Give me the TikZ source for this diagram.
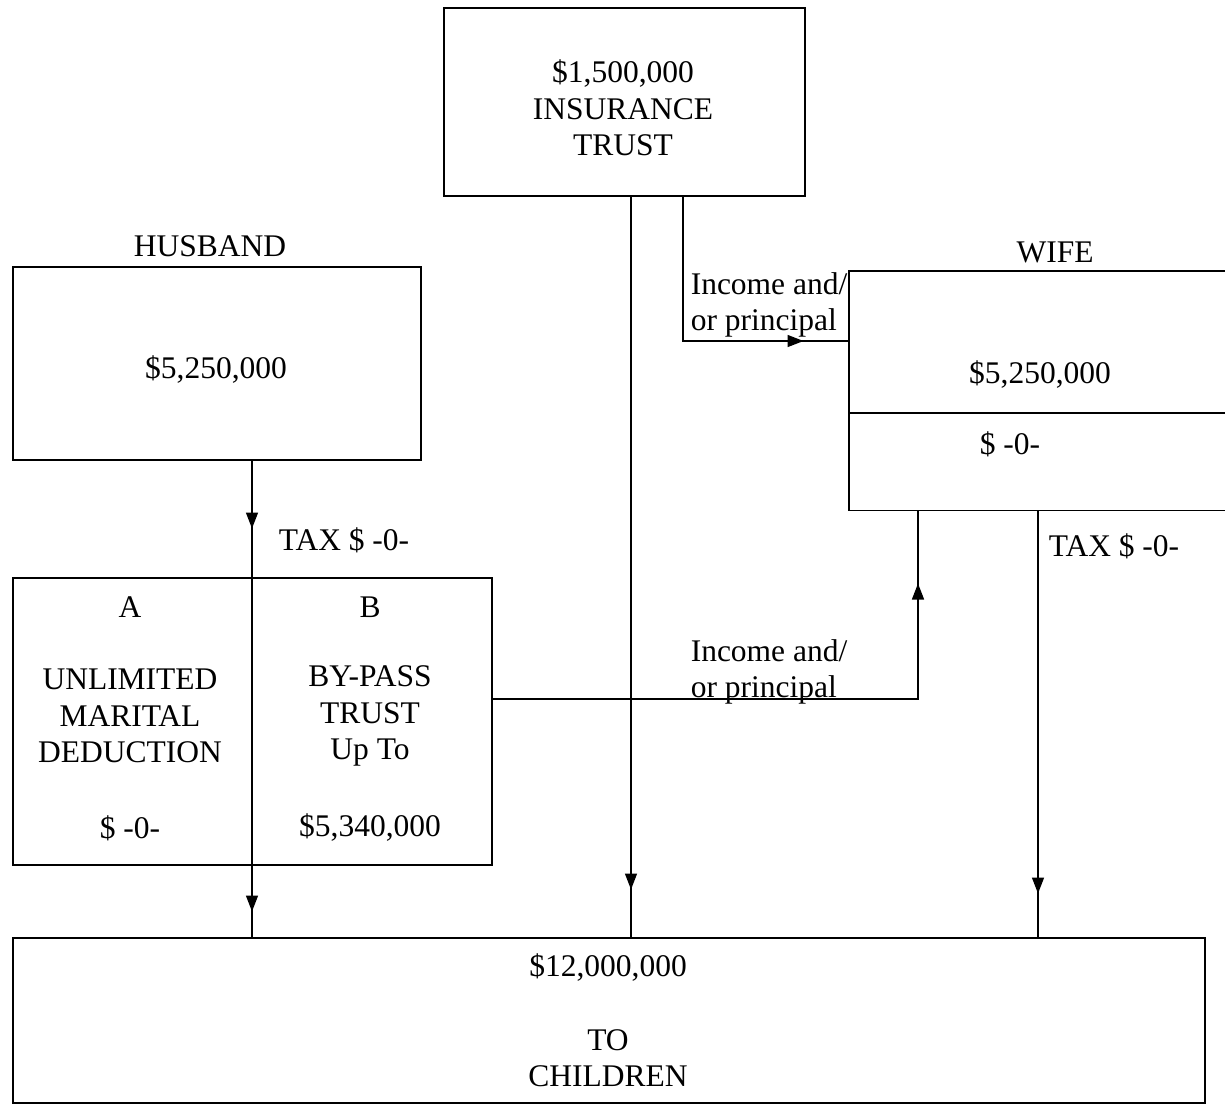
\documentclass[tikz,border=0pt]{standalone}
\usepackage{fontspec}
\setmainfont{Liberation Serif}
\usetikzlibrary{arrows.meta,decorations.markings,calc}
\begin{document}
\begin{tikzpicture}[x=1pt,y=-1pt,line width=1.5pt,
  txt/.style={font=\fontsize{31.5}{36.5}\selectfont, inner sep=0pt, align=center},
  ltxt/.style={font=\fontsize{31.5}{36}\selectfont, inner sep=0pt, align=left, anchor=west},
  box/.style={draw, inner sep=0pt, anchor=north west},
  tri/.tip={Triangle[length=16pt,width=12pt]},
  midarrow/.style={postaction={decorate},
    decoration={markings, mark=at position #1 with {\arrow{tri}}}},
  twoarrows/.style={postaction={decorate},
    decoration={markings,
      mark=at position 68pt with {\arrow{tri}},
      mark=at position 451pt with {\arrow{tri}}}}]
\useasboundingbox (0,0) rectangle (1225,1109);

% boxes
\node[box, minimum width=361pt, minimum height=188pt] (ins) at (443,7) {};
\node[box, minimum width=408pt, minimum height=193pt] (hus) at (12,266) {};
\node[box, minimum width=479pt, minimum height=287pt] (ab) at (12,577) {};
\node[box, minimum width=1192pt, minimum height=165pt] (kids) at (12,937) {};
\node[inner sep=0pt, anchor=north west, minimum width=376pt, minimum height=238pt] (wife) at (849,271) {};
\coordinate (ydiv) at (0,413);
\draw (wife.north east) -- (wife.north west) -- (wife.south west) -- (wife.south east);
\draw (wife.west |- ydiv) -- (wife.east |- ydiv);

% texts
\node[txt] (tins) at (623,108) {\$1,500,000\\INSURANCE\\TRUST};
\node[txt] (thusl) at (210,246) {HUSBAND};
\node[txt] (thus) at (216,370) {\$5,250,000};
\node[txt] (twifel) at (1055,252) {WIFE};
\node[txt] (twife) at (1040,375) {\$5,250,000};
\node[txt] (twz) at (1010,444) {\$ -0-};
\node[txt] (tA) at (130,607) {A};
\node[txt] (tAt) at (130,716) {UNLIMITED\\MARITAL\\DEDUCTION};
\node[txt] (tAz) at (130,828) {\$ -0-};
\node[txt] (tB) at (370,607) {B};
\node[txt] (tBt) at (370,716) {BY-PASS\\TRUST\\Up To};
\node[txt] (tBz) at (370,828) {\$5,340,000};
\node[txt] (tk1) at (608,967) {\$12,000,000};
\node[txt] (tk2) at (608,1058) {TO\\CHILDREN};
\node[txt] (tax1) at (344,540) {TAX \$ -0-};
\node[txt] (tax2) at (1114,546) {TAX \$ -0-};
\node[ltxt] (inc1) at (690,305) {Income and/\\or principal};
\node[ltxt] (inc2) at (690,672) {Income and/\\or principal};

% connectors
\coordinate (xh) at (252,0);
\coordinate (xi) at (631,0);
\coordinate (xj) at (683,0);
\coordinate (yj) at (0,341);
\coordinate (yb) at (0,699);
\coordinate (xb) at (918,0);
\coordinate (xw) at (1038,0);
\draw[twoarrows] (hus.south -| xh) -- (kids.north -| xh);
\draw[midarrow=693pt] (ins.south -| xi) -- (kids.north -| xi);
\draw[midarrow=265pt] (ins.south -| xj) |- (wife.west |- yj);
\draw[midarrow=541pt] (ab.east |- yb) -| (wife.south -| xb);
\draw[midarrow=383pt] (wife.south -| xw) -- (kids.north -| xw);
\end{tikzpicture}
\end{document}
